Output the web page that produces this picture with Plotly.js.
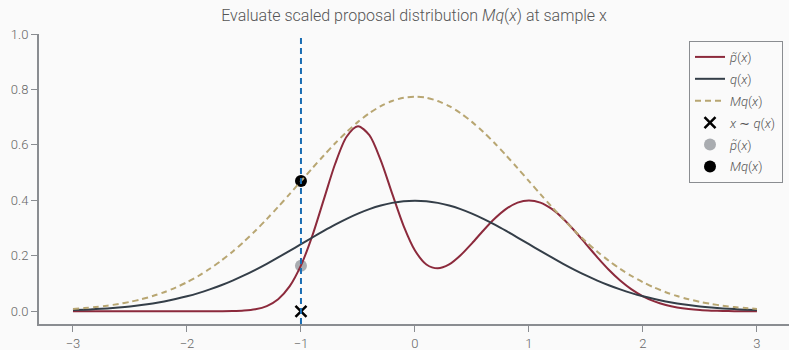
<!DOCTYPE html>
<html>
<head>
<meta charset="utf-8">
<script src="https://cdn.plot.ly/plotly-3.0.1.min.js"></script>
<style>
  html, body { margin: 0; padding: 0; background: #fafafa; }
  #chart { width: 789px; height: 350px; }
</style>
</head>
<body>
<div id="chart"></div>
<script>
// Grid of x positions shared by the three density curves
const xs = [-3.0,-2.9,-2.8,-2.7,-2.6,-2.5,-2.4,-2.3,-2.2,-2.1,-2.0,-1.9,-1.8,-1.7,-1.6,-1.5,-1.4,-1.3,-1.2,-1.1,
            -1.0,-0.9,-0.8,-0.7,-0.6,-0.5,-0.4,-0.3,-0.2,-0.1,0.0,0.1,0.2,0.3,0.4,0.5,0.6,0.7,0.8,0.9,
            1.0,1.1,1.2,1.3,1.4,1.5,1.6,1.7,1.8,1.9,2.0,2.1,2.2,2.3,2.4,2.5,2.6,2.7,2.8,2.9,3.0];

// Unnormalised target density p~(x)
const pTilde = [0.0000,0.0000,0.0000,0.0000,0.0000,0.0000,0.0000,0.0000,0.0000,0.0000,
                0.0000,0.0000,0.0000,0.0002,0.0008,0.0026,0.0074,0.0189,0.0436,0.0897,
                0.1654,0.2729,0.4027,0.5321,0.6296,0.6674,0.6351,0.5445,0.4246,0.3082,
                0.2194,0.1689,0.1548,0.1690,0.2021,0.2452,0.2913,0.3343,0.3692,0.3921,
                0.4000,0.3921,0.3692,0.3341,0.2905,0.2426,0.1947,0.1501,0.1112,0.0792,
                0.0541,0.0356,0.0225,0.0136,0.0079,0.0044,0.0024,0.0012,0.0006,0.0003,0.0001];

// Proposal density q(x)
const q = [0.0044,0.0060,0.0079,0.0104,0.0136,0.0175,0.0224,0.0283,0.0355,0.0440,
           0.0540,0.0656,0.0790,0.0940,0.1109,0.1295,0.1497,0.1714,0.1942,0.2179,
           0.2420,0.2661,0.2897,0.3123,0.3332,0.3521,0.3683,0.3814,0.3910,0.3970,
           0.3989,0.3970,0.3910,0.3814,0.3683,0.3521,0.3332,0.3123,0.2897,0.2661,
           0.2420,0.2179,0.1942,0.1714,0.1497,0.1295,0.1109,0.0940,0.0790,0.0656,
           0.0540,0.0440,0.0355,0.0283,0.0224,0.0175,0.0136,0.0104,0.0079,0.0060,0.0044];

// Scaled proposal envelope M*q(x)
const mq = [0.0085,0.0116,0.0153,0.0202,0.0264,0.0340,0.0435,0.0549,0.0689,0.0854,
            0.1048,0.1273,0.1533,0.1824,0.2151,0.2512,0.2904,0.3325,0.3767,0.4227,
            0.4695,0.5162,0.5620,0.6059,0.6464,0.6831,0.7145,0.7399,0.7585,0.7702,
            0.7739,0.7702,0.7585,0.7399,0.7145,0.6831,0.6464,0.6059,0.5620,0.5162,
            0.4695,0.4227,0.3767,0.3325,0.2904,0.2512,0.2151,0.1824,0.1533,0.1273,
            0.1048,0.0854,0.0689,0.0549,0.0435,0.0340,0.0264,0.0202,0.0153,0.0116,0.0085];

// The drawn sample and the two densities evaluated there
const sampleX = [-1.0];
const sampleY = [0.0];
const pAtSample = [0.164];
const mqAtSample = [0.4695];

const xTicks = [-3, -2, -1, 0, 1, 2, 3];
const yTicks = [0.0, 0.2, 0.4, 0.6, 0.8, 1.0];
const yTickText = ['0.0', '0.2', '0.4', '0.6', '0.8', '1.0'];

const legendFont = { family: 'Roboto, sans-serif', size: 13, color: '#555', weight: 300 };

const traces = [
  { x: sampleX, y: sampleY, mode: 'markers', name: '<i>x</i> ∼ <i>q</i>(<i>x</i>)', legendrank: 4, legendgroup: 'g4',
    marker: { symbol: 'x-thin', size: 11, color: '#000', line: { width: 2.5, color: '#000' } } },
  { x: sampleX, y: pAtSample, mode: 'markers', name: '<i>p̃</i>(<i>x</i>)', legendrank: 5, legendgroup: 'g5',
    marker: { symbol: 'circle', size: 12, color: '#a9acb0' } },
  { x: sampleX, y: mqAtSample, mode: 'markers', name: '<i>Mq</i>(<i>x</i>)', legendrank: 6, legendgroup: 'g6',
    marker: { symbol: 'circle', size: 12, color: '#000' } },
  { x: xs, y: pTilde, mode: 'lines', name: '<i>p̃</i>(<i>x</i>)', legendrank: 1, legendgroup: 'g1',
    line: { color: '#8c2a3c', width: 2, shape: 'spline', smoothing: 0.8 } },
  { x: xs, y: q, mode: 'lines', name: '<i>q</i>(<i>x</i>)', legendrank: 2, legendgroup: 'g2',
    line: { color: '#343e48', width: 2, shape: 'spline', smoothing: 0.8 } },
  { x: xs, y: mq, mode: 'lines', name: '<i>Mq</i>(<i>x</i>)', legendrank: 3, legendgroup: 'g3',
    line: { color: '#b8a672', width: 2, dash: '6px,4px', shape: 'spline', smoothing: 0.8 } }
];

const axisCommon = {
  showgrid: false, zeroline: false, showline: true,
  linecolor: '#8a8d91', linewidth: 2,
  ticks: 'outside', ticklen: 6, tickwidth: 1, tickcolor: '#8a8d91',
  tickfont: { family: 'Roboto, sans-serif', size: 13, color: '#666', weight: 300 }
};

const layout = {
  width: 789, height: 350,
  paper_bgcolor: '#fafafa', plot_bgcolor: '#fafafa',
  margin: { l: 39, r: 0, t: 34, b: 26 },
  title: {
    text: 'Evaluate scaled proposal distribution <i>Mq</i>(<i>x</i>) at sample x',
    font: { family: 'Roboto, sans-serif', size: 16, color: '#555', weight: 300 },
    xref: 'paper', x: 0.5, xanchor: 'center', y: 0.955, yanchor: 'middle'
  },
  xaxis: Object.assign({}, axisCommon, {
    range: [-3.298, 3.281], tickvals: xTicks, ticktext: xTicks.map(v => v < 0 ? '−' + Math.abs(v) : String(v))
  }),
  yaxis: Object.assign({}, axisCommon, {
    range: [-0.0458, 1.0], tickvals: yTicks, ticktext: yTickText
  }),
  showlegend: true,
  legend: {
    x: 0.992, xanchor: 'right', y: 0.976, yanchor: 'top',
    bgcolor: '#fafafa', bordercolor: '#8a8d91', borderwidth: 1,
    font: legendFont, tracegroupgap: 2, itemwidth: 30
  },
  shapes: [{
    type: 'line', layer: 'above', xref: 'x', yref: 'paper',
    x0: sampleX[0], x1: sampleX[0], y0: 0, y1: 1,
    line: { color: '#1a6db3', width: 2, dash: '6px,4px' }
  }]
};

Plotly.newPlot('chart', traces, layout, { displayModeBar: false, staticPlot: true });
</script>
</body>
</html>
